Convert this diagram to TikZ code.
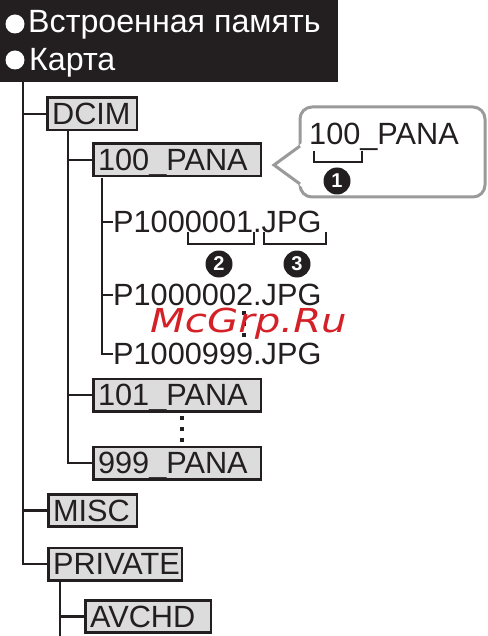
\documentclass[tikz,border=0pt]{standalone}
\usepackage{fontspec}
\setmainfont{Liberation Sans}
\newfontfamily\wmfont{DejaVu Sans}
\definecolor{ink}{HTML}{231F20}
\definecolor{boxgray}{HTML}{DCDCDC}
\definecolor{callgray}{HTML}{9A9A9A}
\definecolor{wmred}{HTML}{D42027}
\newcommand{\treefont}{\fontsize{30.7}{32}\selectfont}
\newcommand{\hdrfont}{\fontsize{32.2}{34}\selectfont}
\newcommand{\numfont}{\fontsize{20}{20}\selectfont\bfseries}
\begin{document}
\begin{tikzpicture}[x=1pt,y=-1pt,
  tree/.style={draw=ink, line width=2.6pt},
  folder/.style={draw=ink, fill=boxgray, line width=2.6pt, anchor=west, inner xsep=4.5pt, inner ysep=0pt,
    minimum height=32.4pt, align=left, text depth=0pt, font=\treefont, text=ink},
  file/.style={anchor=west, inner sep=0pt, font=\treefont, text=ink, text depth=0pt},
  num/.style={circle, fill=ink, text=white, inner sep=0pt, minimum size=27pt, font=\numfont},
  brk/.style={draw=ink, line width=2.4pt},
  hdrtext/.style={anchor=base west, inner sep=0pt, text=white, font=\hdrfont},
  dotmark/.style={fill=ink}]
\useasboundingbox (0,0) rectangle (487,636);
% header
\node[fill=ink, anchor=north west, minimum width=338pt, minimum height=82pt, inner sep=0pt] (hdr) at (0,0) {};
\fill[white] (15,24) circle (9.5pt);
\fill[white] (15,60) circle (9.5pt);
\node[hdrtext] (h1) at (28,33) {Встроенная память};
\node[hdrtext] (h2) at (29,71) {Карта};
% folders
\node[folder, text width=80.4pt] (dcim) at (46.3,114) {DCIM};
\node[folder, text width=158.4pt] (p100) at (92.3,160) {100\_PANA};
\node[folder, text width=158.4pt] (p101) at (92.3,395) {101\_PANA};
\node[folder, text width=158.4pt] (p999) at (92.3,463) {999\_PANA};
\node[folder, text width=79.4pt] (misc) at (47.3,510.5) {MISC};
\node[folder, text width=124.4pt] (private) at (47.3,564) {PRIVATE};
\node[folder, text width=116.4pt] (avchd) at (84.3,616.5) {AVCHD};
% files
\node[file] (f1) at (113,222) {P1000001.JPG};
\node[file] (f2) at (113,295) {P1000002.JPG};
\node[file] (f3) at (113,354) {P1000999.JPG};
% tree lines
\coordinate (t0) at (23,82);
\draw[tree] (t0) |- (dcim.west);
\draw[tree] (t0) |- (misc.west);
\draw[tree] (t0) |- (private.west);
\coordinate (d0) at (68,131);
\draw[tree] (d0) |- (p100.west);
\draw[tree] (d0) |- (p101.west);
\draw[tree] (d0) |- (p999.west);
\coordinate (e0) at (102,178);
\draw[tree] (e0) |- (f1.west);
\draw[tree] (e0) |- (f2.west);
\draw[tree] (e0) |- (f3.west);
\coordinate (v0) at (60,581);
\coordinate (v1) at (60,636);
\draw[tree] (v0) |- (avchd.west);
\draw[tree] (v0) -- (v1);
% ellipsis dots
\fill[dotmark] (180,416) rectangle (184,420);
\fill[dotmark] (180,427) rectangle (184,431);
\fill[dotmark] (180,438) rectangle (184,442);
\fill[dotmark] (242,311) rectangle (246,315);
\fill[dotmark] (242,322) rectangle (246,326);
\fill[dotmark] (242,333) rectangle (246,337);
% brackets and numbers
\draw[brk] (188,232) -- (188,244) -- (254,244) -- (254,232);
\draw[brk] (264,232) -- (264,244) -- (326,244) -- (326,232);
\node[num] (n2) at (219,264) {2};
\node[num] (n3) at (297,264) {3};
% callout
\draw[draw=callgray, fill=white, line width=3pt, rounded corners=12pt] (300,107) rectangle (485,197);
\fill[white] (302,143) -- (275,165) -- (302,187) -- cycle;
\draw[draw=callgray, line width=3pt, line join=miter] (300,146) -- (274,165) -- (300,184);
\node[anchor=base west, inner sep=0pt, font=\treefont, text=ink] (ctext) at (309,145) {100\_PANA};
\draw[brk] (314,151) -- (314,162) -- (362,162) -- (362,151);
\node[num] (n1) at (337,181) {1};
% watermark
\node[anchor=base west, inner sep=0pt, text=wmred, font=\wmfont\itshape\fontsize{33}{33}\selectfont, xscale=1.22] (wm) at (150,332) {McGrp.Ru};
\end{tikzpicture}
\end{document}
